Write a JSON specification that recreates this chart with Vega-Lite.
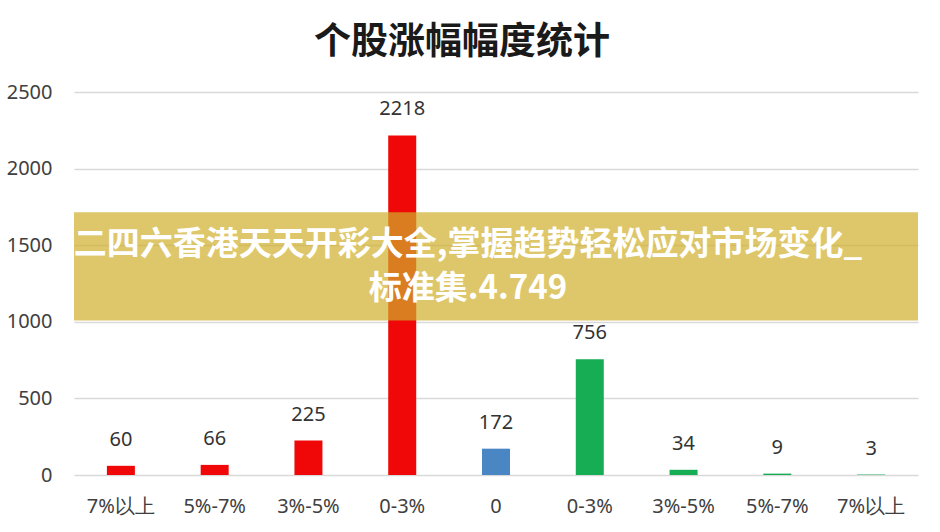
{
  "$schema": "https://vega.github.io/schema/vega-lite/v6.json",
  "autosize": {"type": "fit", "contains": "padding"},
  "width": 940,
  "height": 532,
  "padding": {"left": 6, "right": 22, "top": 24, "bottom": 16},
  "background": "white",
  "view": {"stroke": null},
  "title": {
    "text": "个股涨幅幅度统计",
    "font": "Noto Sans CJK SC",
    "fontSize": 37,
    "fontWeight": "bold",
    "color": "#1a1a1a",
    "anchor": "middle",
    "frame": "bounds",
    "offset": 15
  },
  "data": {
    "values": [
      {"range": "7%以上", "count": 60, "side": "涨"},
      {"range": "5%-7%", "count": 66, "side": "涨"},
      {"range": "3%-5%", "count": 225, "side": "涨"},
      {"range": "0-3%", "count": 2218, "side": "涨"},
      {"range": "0", "count": 172, "side": "平"},
      {"range": "0-3%\u200b", "count": 756, "side": "跌"},
      {"range": "3%-5%\u200b", "count": 34, "side": "跌"},
      {"range": "5%-7%\u200b", "count": 9, "side": "跌"},
      {"range": "7%以上\u200b", "count": 3, "side": "跌"}
    ]
  },
  "layer": [
    {
      "encoding": {
        "x": {
          "field": "range",
          "type": "nominal",
          "sort": null,
          "title": null,
          "axis": {
            "labelAngle": 0,
            "labelFont": "Noto Sans",
            "labelFontSize": 20,
            "labelColor": "#404040",
            "labelPadding": 21,
            "domain": false,
            "ticks": false,
            "grid": false
          }
        },
        "y": {
          "field": "count",
          "type": "quantitative",
          "title": null,
          "scale": {"domain": [0, 2500]},
          "axis": {
            "values": [0, 500, 1000, 1500, 2000, 2500],
            "format": "d",
            "labelFont": "Noto Sans",
            "labelFontSize": 20,
            "labelColor": "#404040",
            "labelPadding": 22,
            "domain": false,
            "ticks": false,
            "gridColor": "#d9d9d9",
            "gridWidth": 1.5
          }
        }
      },
      "layer": [
        {
          "mark": {"type": "bar", "size": 28},
          "encoding": {
            "color": {
              "field": "side",
              "type": "nominal",
              "legend": null,
              "scale": {"domain": ["涨", "平", "跌"], "range": ["#f00808", "#4a86c4", "#16ad55"]}
            }
          }
        },
        {
          "mark": {"type": "text", "baseline": "bottom", "dy": -16, "font": "Noto Sans", "fontSize": 20, "color": "#333333"},
          "encoding": {"text": {"field": "count", "type": "quantitative"}}
        }
      ]
    },
    {
      "data": {"values": [{}]},
      "mark": {"type": "rect", "color": "#d0af2b", "opacity": 0.7},
      "encoding": {
        "y": {"datum": 1010, "type": "quantitative"},
        "y2": {"datum": 1717}
      }
    },
    {
      "data": {"values": [{}]},
      "mark": {
        "type": "text",
        "text": ["二四六香港天天开彩大全,掌握趋势轻松应对市场变化_", "标准集.4.749"],
        "font": "Noto Sans CJK SC",
        "fontSize": 33,
        "fontWeight": "bold",
        "color": "white",
        "lineHeight": 44,
        "align": "center",
        "baseline": "middle",
        "dx": -28
      },
      "encoding": {
        "y": {"datum": 1500, "type": "quantitative"}
      }
    }
  ]
}
